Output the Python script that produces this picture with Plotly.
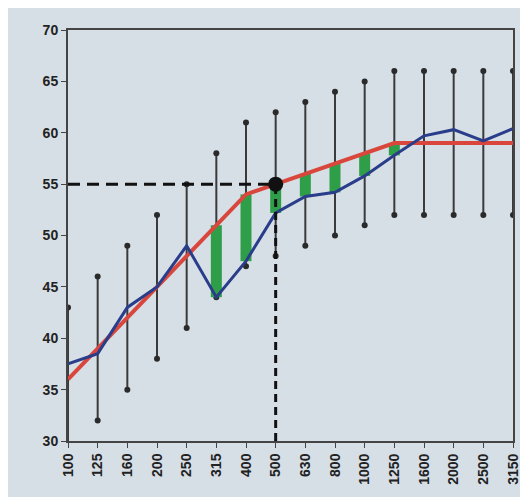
import plotly.graph_objects as go

freqs = ["100", "125", "160", "200", "250", "315", "400", "500",
         "630", "800", "1000", "1250", "1600", "2000", "2500", "3150"]
reference = [36, 39, 42, 45, 48, 51, 54, 55, 56, 57, 58, 59, 59, 59, 59, 59]
measured = [37.5, 38.5, 43, 45, 49, 44, 47.5, 52.2, 53.8, 54.2, 55.8, 57.8, 59.7, 60.3, 59.2, 60.4]
upper = [43, 46, 49, 52, 55, 58, 61, 62, 63, 64, 65, 66, 66, 66, 66, 66]
lower = [29, 32, 35, 38, 41, 44, 47, 48, 49, 50, 51, 52, 52, 52, 52, 52]
deficit_bands = ["315", "400", "500", "630", "800", "1000", "1250"]
rating_freq = "500"
rating_value = 55
y_min, y_max = 30, 70

fig = go.Figure()

# error bars (range)
ex, ey = [], []
for f, lo, hi in zip(freqs, lower, upper):
    ex += [f, f, None]
    ey += [lo, hi, None]
fig.add_trace(go.Scatter(x=ex, y=ey, mode="lines+markers",
                         line=dict(color="#3a3a3a", width=2),
                         marker=dict(color="#2a2a2a", size=6),
                         hoverinfo="skip", showlegend=False))

# green deficiency bars
gx, gy = [], []
for f in deficit_bands:
    i = freqs.index(f)
    gx += [f, f, None]
    gy += [measured[i], reference[i], None]
fig.add_trace(go.Scatter(x=gx, y=gy, mode="lines",
                         line=dict(color="#2f9e48", width=11),
                         hoverinfo="skip", showlegend=False))

# reference curve
fig.add_trace(go.Scatter(x=freqs, y=reference, mode="lines",
                         line=dict(color="#d9473c", width=4),
                         showlegend=False))
# measured curve
fig.add_trace(go.Scatter(x=freqs, y=measured, mode="lines",
                         line=dict(color="#2a3d8a", width=3),
                         showlegend=False))

# dashed guide lines
fig.add_trace(go.Scatter(x=[freqs[0], rating_freq], y=[rating_value, rating_value],
                         mode="lines", line=dict(color="#111111", width=3, dash="12px,7px"),
                         showlegend=False, hoverinfo="skip"))
fig.add_trace(go.Scatter(x=[rating_freq, rating_freq], y=[y_min, rating_value],
                         mode="lines", line=dict(color="#111111", width=3, dash="8px,5px"),
                         showlegend=False, hoverinfo="skip"))
# rating point
fig.add_trace(go.Scatter(x=[rating_freq], y=[rating_value], mode="markers",
                         marker=dict(color="#111111", size=15),
                         showlegend=False))

font = dict(family="Arial", size=14, color="#222222", weight="bold")
fig.update_layout(
    width=528, height=497,
    margin=dict(l=60, r=23, t=22, b=64),
    paper_bgcolor="#d6dfe6", plot_bgcolor="#d6dfe6",
    font=font,
)
fig.update_xaxes(type="category", categoryorder="array", categoryarray=freqs,
                 range=[0, len(freqs) - 1], showgrid=False, zeroline=False,
                 showline=True, linecolor="#444444", linewidth=2, mirror=True,
                 ticks="outside", ticklen=5, tickcolor="#444444", tickwidth=1,
                 tickangle=-90, tickfont=font)
fig.update_yaxes(range=[y_min, y_max], dtick=5, showgrid=False, zeroline=False,
                 showline=True, linecolor="#444444", linewidth=2, mirror=True,
                 ticks="outside", ticklen=5, tickcolor="#444444", tickwidth=1,
                 tickfont=font)

fig.write_html("out.html")
